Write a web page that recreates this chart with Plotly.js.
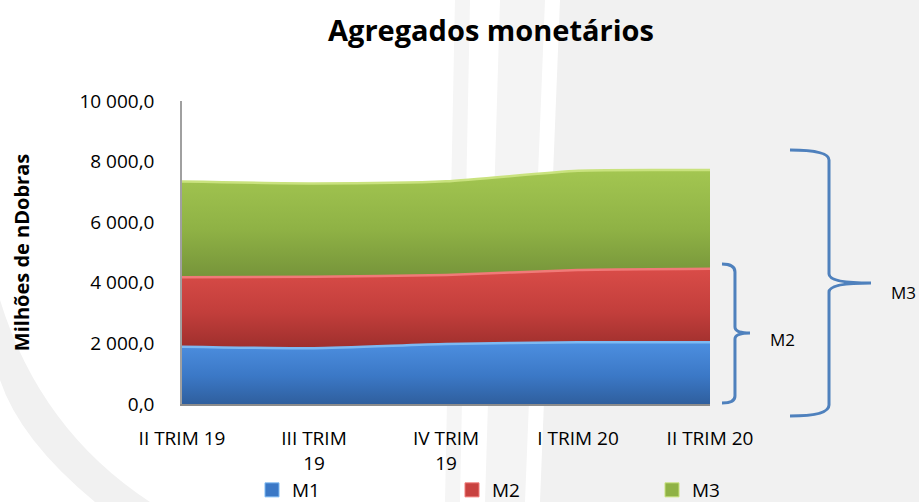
<!DOCTYPE html>
<html>
<head>
<meta charset="utf-8">
<script src="https://cdn.plot.ly/plotly-3.0.1.min.js"></script>
<style>html,body{margin:0;padding:0;background:#fff}#chart{width:919px;height:502px}</style>
</head>
<body>
<div id="chart"></div>
<script>
// ---- data (in millions of nDobras) ----
var categories = ['II TRIM 19', 'III TRIM 19', 'IV TRIM 19', 'I TRIM 20', 'II TRIM 20'];
var tickLabels = ['II TRIM 19', 'III TRIM<br>19', 'IV TRIM<br>19', 'I TRIM 20', 'II TRIM 20'];
var seriesNames = ['M1', 'M2', 'M3'];
var m1 = [1890, 1840, 1980, 2035, 2035];
var m2 = [4180, 4200, 4260, 4420, 4460];
var m3 = [7340, 7280, 7350, 7700, 7720];
var yTicks = [0, 2000, 4000, 6000, 8000, 10000];

// ---- geometry helpers (plot area in px) ----
var L = 182, R = 710, T = 101, B = 404, W = 919, H = 502;
function px(x) { return (x - L) / (R - L); }
function py(y) { return (B - y) / (B - T); }
function pathFrom(cmds) {
  return cmds.map(function (c) {
    var s = c[0];
    for (var i = 1; i < c.length; i += 2) s += ' ' + px(c[i]).toFixed(4) + ',' + py(c[i + 1]).toFixed(4);
    return s;
  }).join(' ');
}

var font = 'Open Sans, Lato, sans-serif';
var styles = [
  {line: '#7db9f2', scale: [[0, '#2f5f9e'], [0.45, '#3b78c6'], [1, '#4d8fe0']], legend: '#3b78c6', lx: 252},
  {line: '#f07a78', scale: [[0, '#9e2f2d'], [0.45, '#c23e3b'], [1, '#d94c48']], legend: '#c84240', lx: 452},
  {line: '#c9e27e', scale: [[0, '#76943a'], [0.45, '#8fb245'], [1, '#a3c651']], legend: '#8fb245', lx: 652}
];
var values = [m1, m2, m3];
var legendIds = ['legend', 'legend2', 'legend3'];

var traces = [];
values.forEach(function (v, i) {
  traces.push({
    type: 'scatter', mode: 'lines', name: seriesNames[i],
    x: categories, y: v,
    fill: i === 0 ? 'tozeroy' : 'tonexty',
    fillgradient: {type: 'vertical', colorscale: styles[i].scale},
    fillcolor: styles[i].legend,
    line: {color: styles[i].line, width: 2.5, shape: 'spline', smoothing: 0.6},
    showlegend: false, hoverinfo: 'x+y+name'
  });
});
// legend swatches (one legend per series so each can sit where the reference has it)
values.forEach(function (v, i) {
  traces.push({
    type: 'scatter', mode: 'markers', name: seriesNames[i],
    x: [null], y: [null], legend: legendIds[i],
    marker: {symbol: 'square', size: 14, color: styles[i].legend, line: {color: styles[i].line, width: 1}},
    showlegend: true
  });
});

var shapes = [
  {type: 'path', xref: 'paper', yref: 'paper', layer: 'below',
   path: pathFrom([['M', 560, 0], ['L', W, 0], ['L', W, H], ['L', 540, H], ['Z']]),
   fillcolor: '#f1f1f1', line: {width: 0}},
  {type: 'path', xref: 'paper', yref: 'paper', layer: 'below',
   path: pathFrom([['M', 455, 0], ['L', 470, 0], ['L', 460, H], ['L', 445, H], ['Z']]),
   fillcolor: '#f5f5f5', line: {width: 0}},
  {type: 'path', xref: 'paper', yref: 'paper', layer: 'below',
   path: pathFrom([['M', 500, 0], ['L', 545, 0], ['L', 525, H], ['L', 485, H], ['Z']]),
   fillcolor: '#f4f4f4', line: {width: 0}},
  {type: 'path', xref: 'paper', yref: 'paper', layer: 'below',
   path: pathFrom([['M', 0, 300], ['Q', 40, 430, 150, H], ['L', 95, H], ['Q', 20, 440, 0, 380], ['Z']]),
   fillcolor: '#f1f1f1', line: {width: 0}},
  // M2 brace
  {type: 'path', xref: 'paper', yref: 'paper',
   path: pathFrom([['M', 722, 264], ['Q', 735, 264, 735, 272], ['L', 735, 327], ['Q', 735, 333, 750, 333],
                   ['Q', 735, 333, 735, 339], ['L', 735, 396], ['Q', 735, 403, 722, 403]]),
   line: {color: '#4f81bd', width: 3}},
  // M3 brace
  {type: 'path', xref: 'paper', yref: 'paper',
   path: pathFrom([['M', 790, 150], ['Q', 829, 150, 829, 160], ['L', 829, 274], ['Q', 829, 283, 871, 283],
                   ['Q', 829, 283, 829, 292], ['L', 829, 405], ['Q', 829, 416, 790, 416]]),
   line: {color: '#4f81bd', width: 3}}
];

var annotations = [
  {xref: 'paper', yref: 'paper', x: px(782), y: py(339), xanchor: 'center', yanchor: 'middle',
   text: 'M2', showarrow: false, font: {family: font, size: 17, color: '#000'}},
  {xref: 'paper', yref: 'paper', x: px(903), y: py(292), xanchor: 'center', yanchor: 'middle',
   text: 'M3', showarrow: false, font: {family: font, size: 17, color: '#000'}}
];

var layout = {
  width: W, height: H,
  margin: {l: L, r: W - R, t: T, b: H - B, pad: 0},
  paper_bgcolor: '#ffffff', plot_bgcolor: '#ffffff',
  separators: ', ',
  font: {family: font, color: '#000'},
  title: {text: '<b>Agregados monetários</b>', font: {family: font, size: 29, color: '#000'},
          x: 491 / W, xanchor: 'center', xref: 'container', y: 1 - 31 / H, yanchor: 'middle', yref: 'container'},
  xaxis: {
    type: 'category', range: [0, categories.length - 1],
    tickvals: categories, ticktext: tickLabels,
    showgrid: false, zeroline: false, showline: true, linecolor: '#8c8c8c', linewidth: 2,
    ticks: '', ticklabelstandoff: 16, tickfont: {family: font, size: 19, color: '#000'}
  },
  yaxis: {
    range: [0, 10000], tickvals: yTicks, tickformat: ',.1f',
    showgrid: false, zeroline: false, showline: true, linecolor: '#a0a0a0', linewidth: 1.5,
    ticks: '', ticklabelstandoff: 22,
    tickfont: {family: font, size: 19, color: '#000'},
    title: {text: '<b>Milhões de nDobras</b>', font: {family: font, size: 20, color: '#000'}, standoff: 44}
  },
  shapes: shapes, annotations: annotations,
  showlegend: true
};
legendIds.forEach(function (id, i) {
  layout[id] = {
    xref: 'container', yref: 'container',
    x: styles[i].lx / W, xanchor: 'left', y: 1 - 490 / H, yanchor: 'middle',
    orientation: 'h', borderwidth: 0, bgcolor: 'rgba(0,0,0,0)',
    font: {family: font, size: 19, color: '#000'}
  };
});

Plotly.newPlot('chart', traces, layout, {displayModeBar: false, responsive: false});
</script>
</body>
</html>
